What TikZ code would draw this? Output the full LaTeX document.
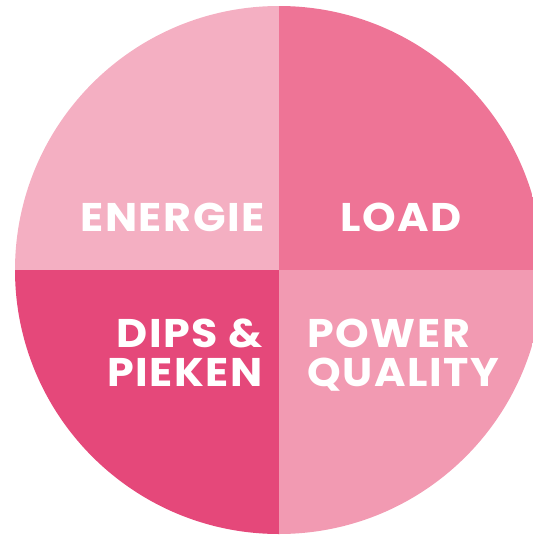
\documentclass[tikz,border=0pt]{standalone}
\usepackage{fontspec}
\setmainfont{Poppins}[LetterSpace=4, FakeStretch=1.07]
\definecolor{qtl}{RGB}{244,175,194}
\definecolor{qtr}{RGB}{238,116,150}
\definecolor{qbl}{RGB}{229,72,122}
\definecolor{qbr}{RGB}{242,154,178}
\tikzset{
  lbl/.style={text=white, font=\fontsize{40}{39}\selectfont\bfseries, inner sep=0pt, align=#1},
}
\begin{document}
\begin{tikzpicture}[x=1pt,y=-1pt]
\useasboundingbox (0,0) rectangle (533,536);
\clip (0,0) rectangle (533,536);
\begin{scope}
\clip (279,270) circle (264);
\fill[qtl] (0,0) rectangle (279,270);
\fill[qtr] (279,0) rectangle (560,270);
\fill[qbl] (0,270) rectangle (279,560);
\fill[qbr] (279,270) rectangle (560,560);
\end{scope}
\node[lbl=right, anchor=base east] (energie) at (265,231) {ENERGIE};
\node[lbl=left, anchor=base west] (load) at (340,231) {LOAD};
\node[lbl=right, anchor=base east] (dips) at (263,347) {DIPS \&};
\node[lbl=right, anchor=base east] (pieken) at (263,386) {PIEKEN};
\node[lbl=left, anchor=base west] (power) at (307,347) {POWER};
\node[lbl=left, anchor=base west] (quality) at (307,386) {QUALITY};
\end{tikzpicture}
\end{document}
